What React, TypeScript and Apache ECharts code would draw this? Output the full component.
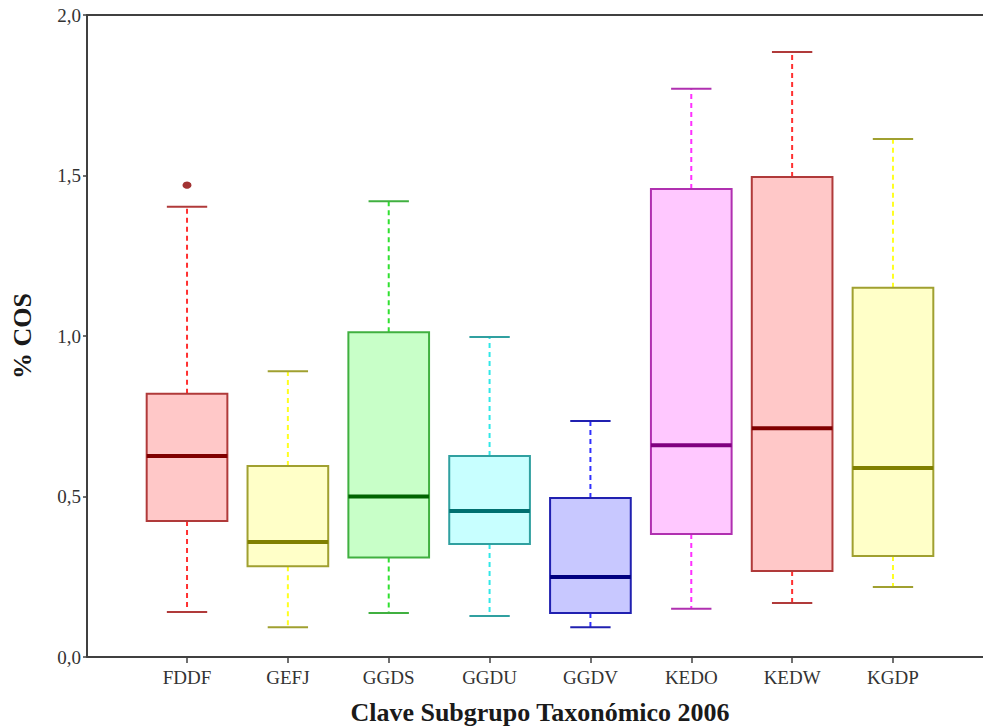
import React, { useEffect, useRef } from "react";
import * as echarts from "echarts";

const categories = ["FDDF", "GEFJ", "GGDS", "GGDU", "GGDV", "KEDO", "KEDW", "KGDP"];
const whiskerLow = [0.14, 0.093, 0.137, 0.128, 0.093, 0.15, 0.168, 0.218];
const q1Values = [0.424, 0.283, 0.31, 0.352, 0.137, 0.383, 0.268, 0.315];
const medians = [0.626, 0.358, 0.5, 0.455, 0.249, 0.66, 0.713, 0.589];
const q3Values = [0.82, 0.595, 1.012, 0.626, 0.495, 1.458, 1.495, 1.15];
const whiskerHigh = [1.403, 0.89, 1.42, 0.997, 0.735, 1.77, 1.885, 1.614];
const outliers: [string, number][] = [["FDDF", 1.47]];
const yTicks = { min: 0, max: 2, interval: 0.5 };

const fills = ["#FFC8C8", "#FFFFC8", "#C8FFC8", "#C8FFFF", "#C8C8FF", "#FFC8FF", "#FFC8C8", "#FFFFC8"];
const borders = ["#B03A3A", "#A0A030", "#40B040", "#30A0A0", "#2020B0", "#B030B0", "#B03A3A", "#A0A030"];
const medianColors = ["#800000", "#808000", "#006400", "#007070", "#000080", "#800080", "#800000", "#808000"];
const whiskerColors = ["#FF3030", "#FFFF20", "#30E030", "#30E8E8", "#3030FF", "#FF30FF", "#FF3030", "#FFFF20"];

const SERIF = "'Liberation Serif', 'DejaVu Serif', serif";
const AXIS_COLOR = "#404040";

export default function App() {
  const ref = useRef<HTMLDivElement>(null);
  useEffect(() => {
    if (!ref.current) return;
    const chart = echarts.init(ref.current, undefined, { renderer: "svg" });
    const boxData = categories.map((c, i) => [i, whiskerLow[i], q1Values[i], medians[i], q3Values[i], whiskerHigh[i]]);

    const option: any = {
      animation: false,
      backgroundColor: "#ffffff",
      grid: [
        { left: 87, right: 0, top: 15, bottom: 70, outerBoundsMode: "none", containLabel: false },
        { left: 136.6, right: 39.6, top: 15, bottom: 70, outerBoundsMode: "none", containLabel: false },
      ],
      xAxis: [
        {
          type: "value", gridIndex: 0, min: 0, max: 1, position: "bottom",
          axisLine: { show: true, onZero: false, lineStyle: { color: AXIS_COLOR, width: 2 } },
          axisTick: { show: false }, axisLabel: { show: false }, splitLine: { show: false },
        },
        {
          type: "value", gridIndex: 0, min: 0, max: 1, position: "top",
          axisLine: { show: true, onZero: false, lineStyle: { color: AXIS_COLOR, width: 2 } },
          axisTick: { show: false }, axisLabel: { show: false }, splitLine: { show: false },
        },
        {
          type: "category", gridIndex: 1, data: categories, position: "bottom",
          axisLine: { show: false, onZero: false },
          axisTick: { show: true, alignWithLabel: true, length: 6, lineStyle: { color: AXIS_COLOR, width: 1.5 } },
          axisLabel: { fontFamily: SERIF, fontSize: 19, color: "#333", margin: 11 },
          splitLine: { show: false },
          name: "Clave Subgrupo Taxonómico 2006",
          nameLocation: "middle",
          nameGap: 42,
          nameTextStyle: { fontFamily: SERIF, fontSize: 26, fontWeight: "bold", color: "#1a1a1a", lineHeight: 26 },
        },
      ],
      yAxis: [
        {
          type: "value", gridIndex: 0, min: yTicks.min, max: yTicks.max, interval: yTicks.interval,
          axisLine: { show: true, onZero: false, lineStyle: { color: AXIS_COLOR, width: 2 } },
          axisTick: { show: true, length: 4, lineStyle: { color: AXIS_COLOR, width: 1.5 } },
          axisLabel: {
            fontFamily: SERIF, fontSize: 19, color: "#333", margin: 6,
            formatter: (v: number) => v.toFixed(1).replace(".", ","),
          },
          splitLine: { show: false },
          name: "% COS",
          nameLocation: "middle",
          nameGap: 52,
          nameTextStyle: { fontFamily: SERIF, fontSize: 26, fontWeight: "bold", color: "#1a1a1a" },
        },
        {
          type: "value", gridIndex: 1, min: yTicks.min, max: yTicks.max, interval: yTicks.interval, show: false,
        },
      ],
      series: [
        {
          type: "custom",
          xAxisIndex: 2,
          yAxisIndex: 1,
          data: boxData,
          encode: { x: 0, y: [1, 2, 3, 4, 5] },
          renderItem: (params: any, api: any) => {
            const idx = api.value(0);
            const lo = api.value(1), q1 = api.value(2), med = api.value(3), q3 = api.value(4), hi = api.value(5);
            const x = api.coord([idx, med])[0];
            const band = api.size([1, 0])[0];
            const bw = band * 0.8;
            const cw = band * 0.4;
            const y = (v: number) => api.coord([idx, v])[1];
            const wc = whiskerColors[idx];
            const bc = borders[idx];
            return {
              type: "group",
              children: [
                { type: "line", shape: { x1: x, y1: y(q3), x2: x, y2: y(hi) }, style: { stroke: wc, lineWidth: 2, lineDash: [5, 4] } },
                { type: "line", shape: { x1: x, y1: y(q1), x2: x, y2: y(lo) }, style: { stroke: wc, lineWidth: 2, lineDash: [5, 4] } },
                { type: "line", shape: { x1: x - cw / 2, y1: y(hi), x2: x + cw / 2, y2: y(hi) }, style: { stroke: bc, lineWidth: 2 } },
                { type: "line", shape: { x1: x - cw / 2, y1: y(lo), x2: x + cw / 2, y2: y(lo) }, style: { stroke: bc, lineWidth: 2 } },
                { type: "rect", shape: { x: x - bw / 2, y: y(q3), width: bw, height: y(q1) - y(q3) }, style: { fill: fills[idx], stroke: bc, lineWidth: 2 } },
                { type: "line", shape: { x1: x - bw / 2, y1: y(med), x2: x + bw / 2, y2: y(med) }, style: { stroke: medianColors[idx], lineWidth: 4 } },
              ],
            };
          },
        },
        {
          type: "scatter",
          xAxisIndex: 2,
          yAxisIndex: 1,
          data: outliers,
          symbol: "circle",
          symbolSize: [9, 7],
          itemStyle: { color: "#8B0000" },
        },
      ],
    };
    chart.setOption(option);
    return () => chart.dispose();
  }, []);
  return <div ref={ref} style={{ position: "absolute", left: 0, top: 0, width: 983, height: 727 }} />;
}
